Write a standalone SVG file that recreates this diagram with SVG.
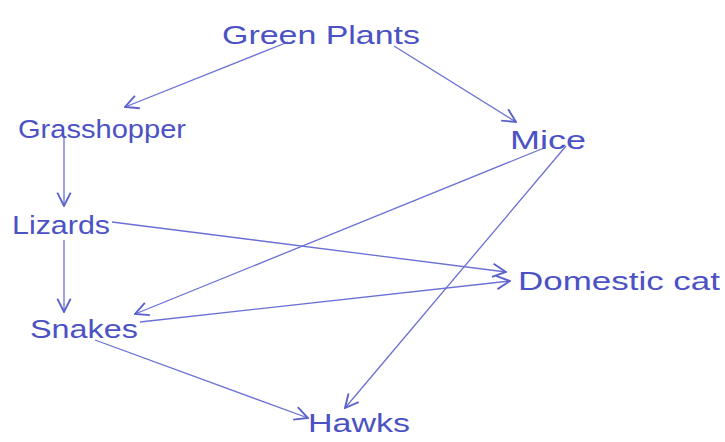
<svg xmlns="http://www.w3.org/2000/svg" width="725" height="442" viewBox="0 0 725 442">
<style>
text{font-family:"Liberation Sans","DejaVu Sans",sans-serif;fill:#4b52c4;font-size:26px}
.e{stroke:#6a70d4;stroke-width:1.3;fill:none;marker-end:url(#a)}
</style>
<defs>
<marker id="a" viewBox="0 0 12 12" refX="11" refY="6" markerWidth="16" markerHeight="16" markerUnits="userSpaceOnUse" orient="auto">
<polyline points="1,1 11,6 1,11" fill="none" stroke="#5b62cc" stroke-width="1.4"/>
</marker>
</defs>
<rect width="725" height="442" fill="#ffffff"/>
<g id="edges">
<line class="e" x1="288" y1="42" x2="125" y2="107"/>
<line class="e" x1="394" y1="46" x2="516" y2="122"/>
<line class="e" x1="64" y1="136" x2="64" y2="206"/>
<line class="e" x1="64" y1="240" x2="64" y2="312"/>
<line class="e" x1="112" y1="222" x2="506" y2="272"/>
<line class="e" x1="544" y1="148" x2="135" y2="314"/>
<line class="e" x1="140" y1="322" x2="510" y2="281"/>
<line class="e" x1="566" y1="146" x2="345" y2="408"/>
<line class="e" x1="95" y1="340" x2="308" y2="418"/>
</g>
<g id="green-plants"><text x="222" y="44" textLength="198" lengthAdjust="spacingAndGlyphs">Green Plants</text></g>
<g id="grasshopper"><text x="18" y="138" textLength="168" lengthAdjust="spacingAndGlyphs">Grasshopper</text></g>
<g id="mice"><text x="510" y="149" textLength="76" lengthAdjust="spacingAndGlyphs">Mice</text></g>
<g id="lizards"><text x="12" y="234" textLength="98" lengthAdjust="spacingAndGlyphs">Lizards</text></g>
<g id="domestic-cat"><text x="518" y="290" textLength="202" lengthAdjust="spacingAndGlyphs">Domestic cat</text></g>
<g id="snakes"><text x="30" y="338" textLength="108" lengthAdjust="spacingAndGlyphs">Snakes</text></g>
<g id="hawks"><text x="308" y="432" textLength="102" lengthAdjust="spacingAndGlyphs">Hawks</text></g>
</svg>
